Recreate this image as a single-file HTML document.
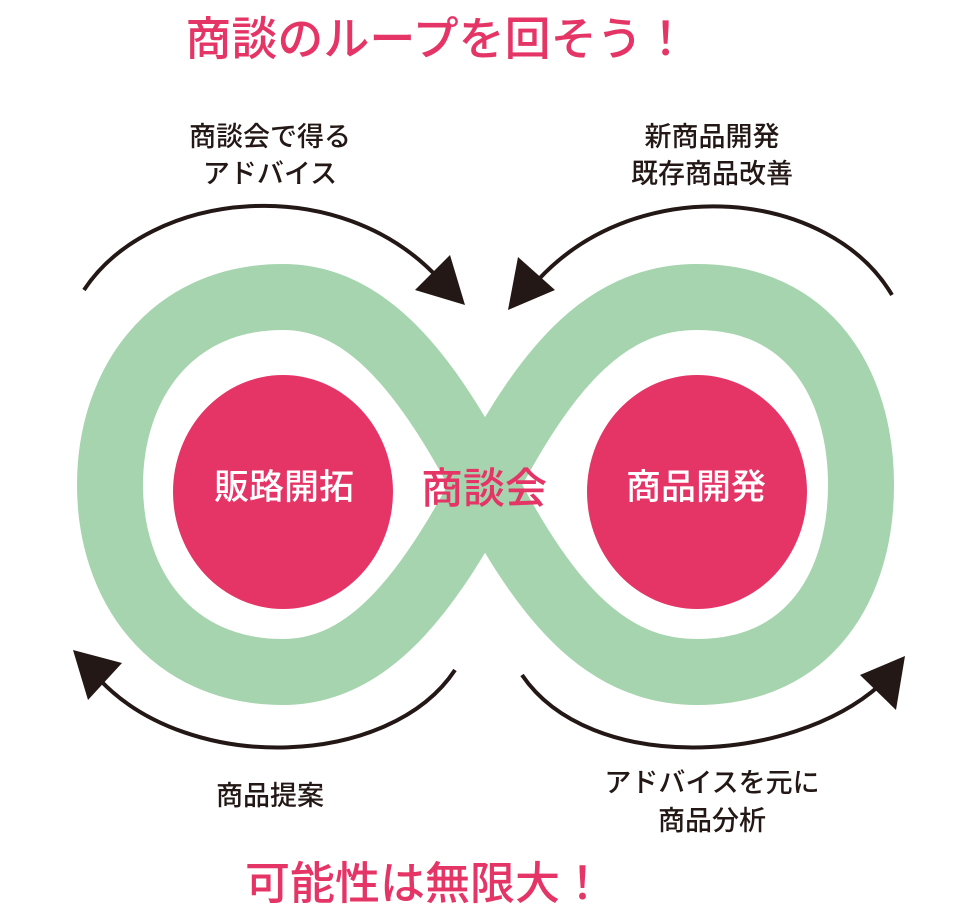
<!DOCTYPE html>
<html><head><meta charset="utf-8"><style>
body{margin:0;background:#fff;width:977px;height:911px;overflow:hidden;font-family:"Liberation Sans","Noto Sans CJK JP",sans-serif}
</style></head><body>
<svg width="977" height="911" viewBox="0 0 977 911" xmlns="http://www.w3.org/2000/svg" style="font-family:'Liberation Sans','Noto Sans CJK JP',sans-serif">
<path d="M485,485 C420,360 360,297 283,297 C170,297 110,385 110,485 C110,585 170,672 283,672 C360,672 420,610 485,485 C550,360 610,297 697,297 C810,297 861,385 861,485 C861,585 810,672 697,672 C610,672 550,610 485,485 Z" fill="none" stroke="#a5d4ae" stroke-width="66"/>
<ellipse cx="283" cy="492" rx="110" ry="117" fill="#e43566"/>
<ellipse cx="697" cy="492" rx="110" ry="117" fill="#e43566"/>
<g font-weight="500" text-anchor="middle">
<text x="284" y="499" font-size="35" fill="#fff">販路開拓</text>
<text x="696" y="499" font-size="35" fill="#fff">商品開発</text>
<text x="484" y="503" font-size="42" fill="#e43566">商談会</text>
<text x="437" y="55" font-size="46" fill="#e43566">商談のループを回そう！</text>
<text x="425" y="899" font-size="45" fill="#e43566">可能性は無限大！</text>
</g>
<g font-size="27" font-weight="500" fill="#231815" text-anchor="middle">
<text x="270" y="146">商談会で得る</text><text x="270" y="183">アドバイス</text>
<text x="712" y="146">新商品開発</text><text x="712" y="183">既存商品改善</text>
<text x="270" y="805">商品提案</text>
<text x="712" y="792">アドバイスを元に</text><text x="712" y="830">商品分析</text>
</g>
<g fill="none" stroke="#231815" stroke-width="4">
<path d="M84,290 C150,190 340,170 440,280"/>
<path d="M892,295 C830,190 640,170 538,280"/>
<path d="M455,670 C390,768 190,775 100,680"/>
<path d="M522,675 C590,775 790,765 880,685"/>
</g>
<g fill="#231815">
<polygon points="465,305 415,290 450,255"/>
<polygon points="508,310 518,257 555,290"/>
<polygon points="73,650 122,663 88,700"/>
<polygon points="905,656 896,710 860,675"/>
</g>
</svg>
</body></html>
